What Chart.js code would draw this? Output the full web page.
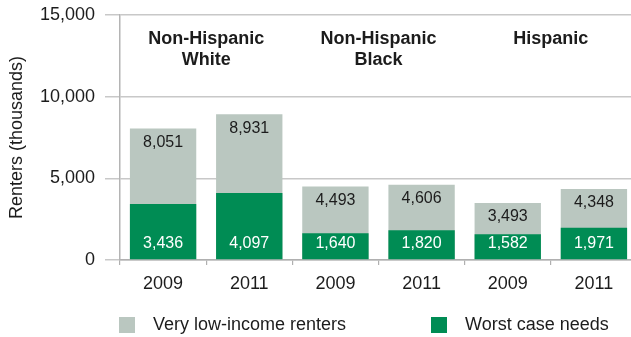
<!DOCTYPE html>
<html>
<head>
<meta charset="utf-8">
<script src="https://cdn.jsdelivr.net/npm/chart.js@4"></script>
<style>
  html, body { margin: 0; padding: 0; background: #fff; overflow: hidden; }
  #chart { display: block; }
</style>
</head>
<body>
<canvas id="chart" width="640" height="337" style="width:640px;height:337px"></canvas>
<script>
// --- DATA ---
const years = ['2009', '2011', '2009', '2011', '2009', '2011'];
const groups = [['Non-Hispanic', 'White'], ['Non-Hispanic', 'Black'], ['Hispanic']];
const veryLowIncome = [8051, 8931, 4493, 4606, 3493, 4348];
const worstCase = [3436, 4097, 1640, 1820, 1582, 1971];

const FONT = '"Liberation Sans", Arial, Helvetica, sans-serif';
const TEXT = '#1c1c1c';
const GRAY = '#bac7c0';
const GREEN = '#008c54';

const fmt = v => Number(v).toLocaleString('en-US');

// group names above each pair of bars
const groupTitles = {
    id: 'groupTitles',
    afterDatasetsDraw(chart) {
        const { ctx, scales: { x } } = chart;
        ctx.save();
        ctx.font = 'bold 18px ' + FONT;
        ctx.fillStyle = TEXT;
        ctx.textAlign = 'center';
        ctx.textBaseline = 'middle';
        groups.forEach((lines, g) => {
            const cx = x.getPixelForValue(g * 2 + 0.5);
            lines.forEach((line, i) => ctx.fillText(line, cx, 39 + i * 21));
        });
        ctx.restore();
    }
};

// value labels inside the bars
const barValues = {
    id: 'barValues',
    afterDatasetsDraw(chart) {
        const { ctx } = chart;
        ctx.save();
        ctx.font = '16px ' + FONT;
        ctx.textAlign = 'center';
        ctx.textBaseline = 'middle';
        chart.data.datasets.forEach((ds, di) => {
            const meta = chart.getDatasetMeta(di);
            meta.data.forEach((bar, i) => {
                if (ds.label === 'Worst case needs') {
                    ctx.fillStyle = '#ffffff';
                    ctx.fillText(fmt(ds.data[i]), bar.x, bar.base - 16);
                } else {
                    ctx.fillStyle = TEXT;
                    ctx.fillText(fmt(ds.data[i]), bar.x, bar.y + 14);
                }
            });
        });
        ctx.restore();
    }
};

// legend row under the axis
const legendRow = {
    id: 'legendRow',
    afterDraw(chart) {
        const { ctx } = chart;
        const spots = [119, 431];
        ctx.save();
        ctx.font = '18px ' + FONT;
        ctx.textBaseline = 'middle';
        chart.data.datasets.forEach((ds, i) => {
            const x = spots[i];
            ctx.fillStyle = ds.backgroundColor;
            ctx.fillRect(x, 317, 16, 16);
            ctx.fillStyle = TEXT;
            ctx.fillText(ds.label, x + 34, 325);
        });
        ctx.restore();
    }
};

new Chart(document.getElementById('chart'), {
    type: 'bar',
    data: {
        labels: years,
        datasets: [
            { label: 'Very low-income renters', data: veryLowIncome, backgroundColor: GRAY, order: 2, grouped: false },
            { label: 'Worst case needs', data: worstCase, backgroundColor: GREEN, order: 1, grouped: false }
        ]
    },
    options: {
        responsive: false,
        animation: false,
        layout: { padding: { top: 15, right: 3, left: 0, bottom: 0 } },
        datasets: { bar: { barPercentage: 0.77, categoryPercentage: 1 } },
        plugins: { legend: { display: false }, tooltip: { enabled: false } },
        scales: {
            x: {
                afterFit(scale) { scale.height = 77; },
                grid: { offset: true, drawOnChartArea: false, tickLength: 5, color: '#b0b0b0', lineWidth: 1.2 },
                border: { color: '#b0b0b0', width: 1.5 },
                ticks: { font: { family: FONT, size: 18 }, color: TEXT, padding: 8 }
            },
            y: {
                min: 0,
                max: 15000,
                afterFit(scale) {
                    scale.width = 120;
                    scale.paddingTop = 0;
                    scale.paddingBottom = 0;
                },
                grid: { color: '#c8c8c8', lineWidth: 1.5, tickLength: 15 },
                border: { color: '#b4b4b4', width: 1.5 },
                ticks: {
                    stepSize: 5000,
                    padding: 10,
                    font: { family: FONT, size: 18 },
                    color: TEXT,
                    callback: v => fmt(v)
                },
                title: {
                    display: true,
                    text: 'Renters (thousands)',
                    font: { family: FONT, size: 18 },
                    color: TEXT,
                    padding: { top: 6, bottom: 0 }
                }
            }
        }
    },
    plugins: [groupTitles, barValues, legendRow]
});
</script>
</body>
</html>
